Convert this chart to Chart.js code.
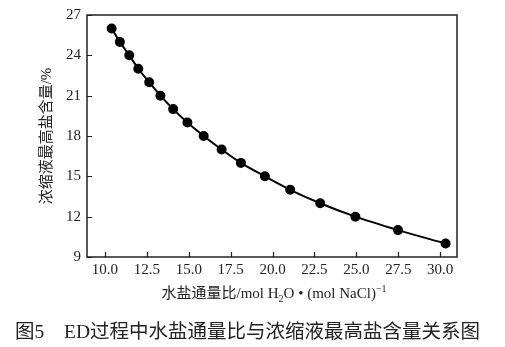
<!DOCTYPE html>
<html>
<head>
<meta charset="utf-8">
<style>
  html, body { margin: 0; padding: 0; background: #fff; }
  #wrap { width: 505px; height: 347px; position: relative; }
</style>
</head>
<body>
<div id="wrap"><canvas id="c" width="505" height="347"></canvas></div>
<script src="https://cdn.jsdelivr.net/npm/chart.js"></script>
<script>
  // 水盐通量比 vs 浓缩液最高盐含量
  const ratio = [10.40, 10.89, 11.45, 11.99, 12.64, 13.31, 14.07, 14.92, 15.89, 16.96, 18.11, 19.54, 21.05, 22.84, 24.94, 27.48, 30.32];
  const saltPct = [26, 25, 24, 23, 22, 21, 20, 19, 18, 17, 16, 15, 14, 13, 12, 11, 10];
  const xTicks = [10, 12.5, 15, 17.5, 20, 22.5, 25, 27.5, 30];
  const yTicks = [9, 12, 15, 18, 21, 24, 27];

  const SERIF = '"Liberation Serif", "Noto Sans CJK SC", serif';

  const framePlugin = {
    id: 'frame',
    afterDraw(chart) {
      const { ctx, chartArea: a, scales: { x, y } } = chart;
      ctx.save();
      ctx.strokeStyle = '#222';
      ctx.lineWidth = 1.5;
      ctx.strokeRect(a.left, a.top, a.right - a.left, a.bottom - a.top);
      // inward ticks
      ctx.lineWidth = 1.2;
      ctx.beginPath();
      for (const v of xTicks) {
        const px = Math.round(x.getPixelForValue(v)) + 0.5;
        ctx.moveTo(px, a.bottom);
        ctx.lineTo(px, a.bottom - 5);
      }
      for (const v of yTicks) {
        const py = Math.round(y.getPixelForValue(v)) + 0.5;
        ctx.moveTo(a.left, py);
        ctx.lineTo(a.left + 5, py);
      }
      ctx.stroke();

      ctx.fillStyle = '#222';
      // y title
      ctx.save();
      ctx.translate(47, (a.top + a.bottom) / 2);
      ctx.rotate(-Math.PI / 2);
      ctx.font = '15px ' + SERIF;
      ctx.textAlign = 'center';
      ctx.textBaseline = 'middle';
      ctx.fillText('浓缩液最高盐含量/%', 0, 0);
      ctx.restore();

      // x title with sub/superscript
      const parts = [
        ['水盐通量比/mol H', 15, 0],
        ['2', 10, 4],
        ['O • (mol NaCl)', 15, 0],
        ['−1', 10, -6]
      ];
      let total = 0;
      for (const [t, s] of parts) { ctx.font = s + 'px ' + SERIF; total += ctx.measureText(t).width; }
      let cx = (a.left + a.right) / 2 - total / 2 + 2;
      ctx.textBaseline = 'alphabetic';
      ctx.textAlign = 'left';
      for (const [t, s, dy] of parts) {
        ctx.font = s + 'px ' + SERIF;
        ctx.fillText(t, cx, 298 + dy);
        cx += ctx.measureText(t).width;
      }

      // caption
      ctx.font = '19.5px ' + SERIF;
      ctx.fillText('图5', 15, 338);
      ctx.fillText('ED过程中水盐通量比与浓缩液最高盐含量关系图', 64, 338);
      ctx.restore();
    }
  };

  new Chart(document.getElementById('c').getContext('2d'), {
    type: 'scatter',
    data: {
      datasets: [{
        data: ratio.map((r, i) => ({ x: r, y: saltPct[i] })),
        showLine: true,
        borderColor: '#000',
        borderWidth: 2,
        backgroundColor: '#000',
        pointRadius: 4,
        pointHoverRadius: 4,
        cubicInterpolationMode: 'monotone'
      }]
    },
    options: {
      responsive: false,
      animation: false,
      events: [],
      layout: { padding: { left: 0, top: 11, right: 48, bottom: 68 } },
      plugins: { legend: { display: false }, tooltip: { enabled: false } },
      scales: {
        x: {
          type: 'linear',
          min: 8.93,
          max: 31.0,
          afterBuildTicks: s => { s.ticks = xTicks.map(v => ({ value: v })); },
          afterFit: s => { s.height = 22; },
          grid: { drawOnChartArea: false, drawTicks: false },
          border: { display: false },
          ticks: {
            padding: 4,
            color: '#222',
            font: { family: SERIF, size: 15 },
            callback: v => v.toFixed(1),
            maxRotation: 0,
            autoSkip: false
          }
        },
        y: {
          min: 9,
          max: 27,
          afterBuildTicks: s => { s.ticks = yTicks.map(v => ({ value: v })); },
          afterFit: s => { s.width = 87; },
          grid: { drawOnChartArea: false, drawTicks: false },
          border: { display: false },
          ticks: {
            padding: 6,
            color: '#222',
            font: { family: SERIF, size: 15 },
            autoSkip: false
          }
        }
      }
    },
    plugins: [framePlugin]
  });
</script>
</body>
</html>
